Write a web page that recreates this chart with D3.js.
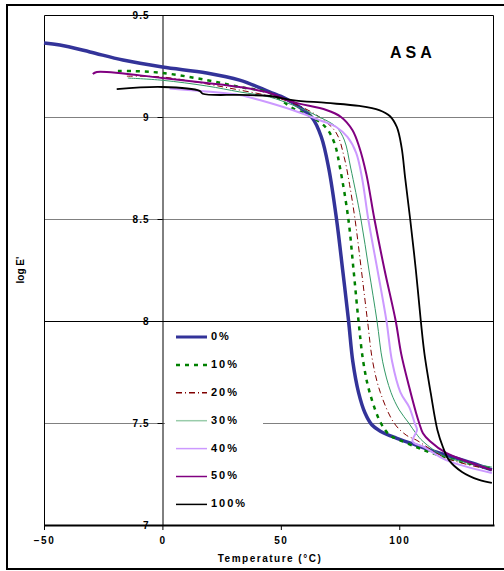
<!DOCTYPE html>
<html>
<head>
<meta charset="utf-8">
<script src="https://cdn.jsdelivr.net/npm/d3@7"></script>
<style>
  body { margin: 0; background: #fff; }
  svg { display: block; font-family: "Liberation Sans", Arial, sans-serif; }
</style>
</head>
<body>
<div id="viz"></div>
<script>
// series data: temperature (C) and log E'
var t0 = [-50, -43.3, -30.6, -16.7, 0, 18.7, 32.6, 45.2, 52, 57.8, 63.3, 67.1, 70.2, 73.5, 76.1, 78.6, 80.4, 82.8, 85.5, 88.5, 92, 98.7, 107.1, 112.6, 119.8, 130.7, 139.1];
var e0 = [9.363, 9.353, 9.319, 9.279, 9.245, 9.216, 9.181, 9.123, 9.09, 9.049, 8.995, 8.902, 8.75, 8.5, 8.25, 8.0, 7.8, 7.65, 7.55, 7.49, 7.46, 7.426, 7.392, 7.368, 7.343, 7.304, 7.27];

var t10 = [-18.8, -12.5, 0, 18.7, 32.6, 45.2, 54.9, 63.3, 69.2, 72.6, 75, 78.5, 80.7, 82.8, 84.8, 87.5, 92.2, 96, 100, 107.1, 112.6, 126.5, 139.1];
var e10 = [9.225, 9.225, 9.216, 9.181, 9.147, 9.118, 9.044, 9.0, 8.946, 8.873, 8.75, 8.5, 8.25, 8.0, 7.8, 7.65, 7.5, 7.44, 7.417, 7.382, 7.358, 7.309, 7.279];

var t20 = [-15, 0, 18.7, 32.6, 45.2, 54.9, 66.3, 73.4, 76.8, 79, 81.3, 84, 86.6, 88.8, 92, 97.8, 103, 107.1, 119.8, 139.1];
var e20 = [9.2, 9.196, 9.162, 9.132, 9.103, 9.069, 9.0, 8.922, 8.8, 8.67, 8.5, 8.25, 8.0, 7.8, 7.65, 7.5, 7.44, 7.417, 7.328, 7.27];

var t30 = [-14.6, 0, 18.7, 32.6, 45.2, 54.9, 66.3, 73.4, 76.8, 79.5, 83.8, 87.2, 90.6, 93, 96.5, 100, 104, 107, 110, 119.8, 139.1];
var e30 = [9.191, 9.18, 9.152, 9.123, 9.098, 9.059, 9.0, 8.951, 8.887, 8.75, 8.5, 8.25, 8.0, 7.8, 7.65, 7.564, 7.5, 7.45, 7.41, 7.333, 7.284];

var t40 = [3, 18.7, 32.6, 41, 54.9, 66.3, 73.4, 78.1, 81.8, 84.3, 86.9, 90.8, 94.6, 97, 100.5, 104.2, 106.5, 107.5, 105.6, 110.5, 119.8, 139.1];
var e40 = [9.14, 9.125, 9.108, 9.083, 9.034, 8.985, 8.951, 8.902, 8.824, 8.7, 8.5, 8.25, 8.0, 7.8, 7.65, 7.578, 7.5, 7.466, 7.41, 7.382, 7.318, 7.255];

var t50 = [-29.4, -27.7, 0, 18.7, 32.6, 45.2, 54.9, 69.2, 75.4, 80.2, 83.1, 86.1, 89.5, 93.8, 98.5, 100.8, 104.2, 107.1, 108.4, 110, 113, 119.8, 139.1];
var e50 = [9.211, 9.221, 9.191, 9.167, 9.147, 9.118, 9.074, 9.034, 9.0, 8.936, 8.853, 8.72, 8.5, 8.25, 8.0, 7.84, 7.676, 7.549, 7.5, 7.45, 7.41, 7.353, 7.27];

var t100 = [-19.3, 0, 15.7, 17, 32.6, 45.2, 54.9, 69.2, 83.1, 91.5, 96, 99, 101, 102.5, 104.6, 107, 109.1, 110.6, 113.3, 116.1, 118.5, 121, 126.5, 133.7, 139.1];
var e100 = [9.137, 9.147, 9.128, 9.114, 9.108, 9.103, 9.083, 9.069, 9.054, 9.034, 9.005, 8.95, 8.85, 8.7, 8.5, 8.25, 8.0, 7.843, 7.646, 7.466, 7.38, 7.318, 7.26, 7.221, 7.206];

var seriesNames = ["0%", "10%", "20%", "30%", "40%", "50%", "100%"];
var seriesT = [t0, t10, t20, t30, t40, t50, t100];
var seriesE = [e0, e10, e20, e30, e40, e50, e100];

var xTicks = [-50, 0, 50, 100];
var yTicks = [7, 7.5, 8, 8.5, 9, 9.5];

// styles per series
var colors = ["#333399", "#008000", "#800000", "#339966", "#CC99FF", "#800080", "#000000"];
var legendColors = ["#333399", "#008000", "#800000", "#99CCAA", "#CC99FF", "#800080", "#000000"];
var widths = [3.5, 2.5, 1, 1, 2, 2, 1.8];
var dashes = [null, "4,5", "6,3,1,3", null, null, null, null];

var W = 504, H = 571;
var svg = d3.select("#viz").append("svg")
	.attr("width", W)
	.attr("height", H);

// outer frame
svg.append("rect")
	.attr("x", 7).attr("y", 5)
	.attr("width", 510).attr("height", 564)
	.attr("fill", "#fff")
	.attr("stroke", "#000")
	.attr("stroke-width", 2);

var x = d3.scaleLinear().domain([-50, 140]).range([44, 494]);
var y = d3.scaleLinear().domain([7, 9.5]).range([525, 15]);

// grid lines
var grid = svg.append("g");
yTicks.forEach(function(v) {
	if (v == 7 || v == 9.5) return;
	grid.append("line")
		.attr("x1", x(-50)).attr("x2", x(140))
		.attr("y1", Math.round(y(v)) + 0.5).attr("y2", Math.round(y(v)) + 0.5)
		.attr("stroke", v == 8 ? "#000" : "#808080")
		.attr("stroke-width", 1);
});

// plot box (top, left, right)
svg.append("path")
	.attr("d", "M" + (x(-50) + 0.5) + "," + y(7) + " V" + (y(9.5) + 0.5) + " H" + (x(140) - 0.5) + " V" + y(7))
	.attr("fill", "none")
	.attr("stroke", "#000")
	.attr("stroke-width", 1);

// legend background
svg.append("rect")
	.attr("x", 165).attr("y", 325)
	.attr("width", 98).attr("height", 190)
	.attr("fill", "#fff");

// y axis at x = 0
var yAxis = d3.axisLeft(y).tickValues(yTicks).tickSize(5).tickPadding(8)
	.tickFormat(function(d) { return d; });
var gy = svg.append("g")
	.attr("transform", "translate(" + (Math.round(x(0)) + 0.5) + ",0)")
	.call(yAxis);
gy.select(".domain").attr("stroke", "#000");
gy.selectAll("text")
	.attr("font-size", 10).attr("font-weight", "bold")
	.attr("letter-spacing", 1)
	.attr("font-family", "Liberation Sans, Arial, sans-serif")
	.attr("fill", "#000");

// x axis at bottom
var xAxis = d3.axisBottom(x).tickValues(xTicks).tickSize(5).tickPadding(7).tickSizeOuter(0);
var gx = svg.append("g")
	.attr("transform", "translate(0," + y(7) + ")")
	.call(xAxis);
gx.select(".domain").attr("stroke-width", 2);
gx.selectAll("text")
	.attr("font-size", 10).attr("font-weight", "bold")
	.attr("letter-spacing", 1.5)
	.attr("font-family", "Liberation Sans, Arial, sans-serif")
	.attr("fill", "#000");

// curves
var lineX = d3.line()
	.x(function(d) { return x(d[0]); })
	.y(function(d) { return y(d[1]); })
	.curve(d3.curveCatmullRom.alpha(0.5));

seriesNames.forEach(function(name, i) {
	var pts = seriesT[i].map(function(t, j) { return [t, seriesE[i][j]]; });
	var p = svg.append("path")
		.datum(pts)
		.attr("d", lineX)
		.attr("fill", "none")
		.attr("stroke", colors[i])
		.attr("stroke-width", widths[i])
		.attr("stroke-linejoin", "round");
	if (dashes[i]) p.attr("stroke-dasharray", dashes[i]);
});

// legend
var legendY0 = 337, legendDy = 27.9;
seriesNames.forEach(function(name, i) {
	var ly = legendY0 + i * legendDy;
	var l = svg.append("line")
		.attr("x1", 176).attr("x2", 207)
		.attr("y1", ly).attr("y2", ly)
		.attr("stroke", legendColors[i])
		.attr("stroke-width", i == 0 ? 3 : (i == 1 ? 2.5 : 1.5));
	if (dashes[i]) l.attr("stroke-dasharray", dashes[i]);
	svg.append("text")
		.attr("x", 211).attr("y", ly)
		.attr("dominant-baseline", "middle")
		.attr("font-size", 11).attr("font-weight", "bold")
		.attr("letter-spacing", 2)
		.text(name);
});

// labels
svg.append("text")
	.attr("x", 390).attr("y", 58)
	.attr("font-size", 16).attr("font-weight", "bold")
	.attr("letter-spacing", 4)
	.text("ASA");

svg.append("text")
	.attr("x", 270).attr("y", 562)
	.attr("text-anchor", "middle")
	.attr("font-size", 10).attr("font-weight", "bold")
	.attr("letter-spacing", 1.5)
	.text("Temperature (°C)");

svg.append("text")
	.attr("transform", "translate(24,270) rotate(-90)")
	.attr("text-anchor", "middle")
	.attr("font-size", 10).attr("font-weight", "bold")
	.text("log E'");
</script>
</body>
</html>
